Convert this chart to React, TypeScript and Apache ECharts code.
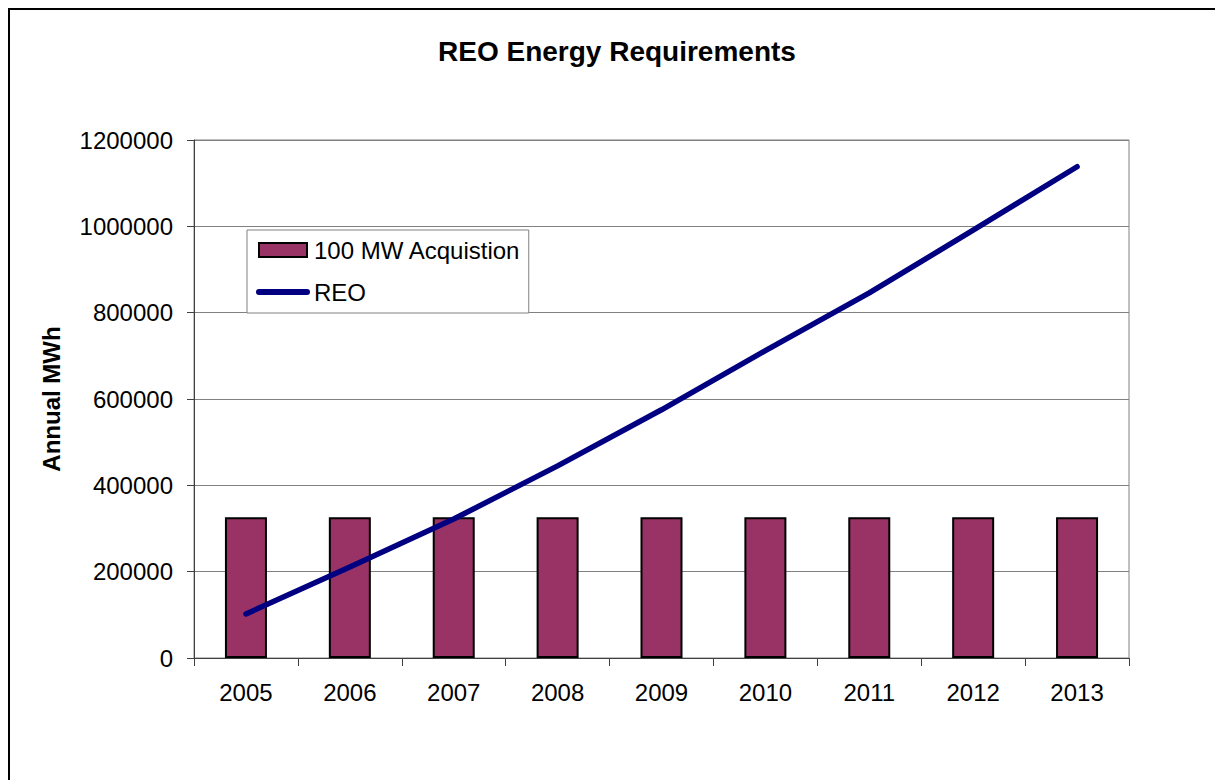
import React, { useEffect, useRef } from "react";
import * as echarts from "echarts";

const years = ["2005", "2006", "2007", "2008", "2009", "2010", "2011", "2012", "2013"];
const acquisition = [326000, 326000, 326000, 326000, 326000, 326000, 326000, 326000, 326000];
const reo = [102000, 211000, 322000, 445000, 575000, 712000, 846000, 991000, 1138000];

const FONT = "'Liberation Sans', Arial, sans-serif";

export default function App() {
  const ref = useRef<HTMLDivElement>(null);
  useEffect(() => {
    if (!ref.current) return;
    const chart = echarts.init(ref.current, null, { renderer: "svg" });
    chart.setOption({
      animation: false,
      backgroundColor: "#fff",
      textStyle: { fontFamily: FONT },
      title: {
        text: "REO Energy Requirements",
        left: 438,
        top: 32,
        padding: [5, 0, 5, 0],
        textStyle: { fontFamily: FONT, fontSize: 28, fontWeight: "bold", color: "#000" },
      },
      graphic: [
        {
          type: "rect",
          shape: { x: 9, y: 9, width: 1300, height: 900 },
          style: { fill: "none", stroke: "#000", lineWidth: 2 },
          silent: true,
        },
      ],
      legend: {
        orient: "vertical",
        left: 247,
        top: 230,
        padding: [8, 8, 9, 9],
        itemGap: 18,
        itemWidth: 48,
        itemHeight: 14,
        borderColor: "#808080",
        borderWidth: 1,
        backgroundColor: "#fff",
        textStyle: { fontFamily: FONT, fontSize: 24, color: "#000", padding: [0, 0, 0, 2] },
        data: [
          { name: "100 MW Acquistion", icon: "rect" },
          {
            name: "REO",
            itemStyle: { opacity: 0 },
            lineStyle: { width: 6, cap: "round", color: "#000080" },
          },
        ],
      },
      grid: {
        left: 194,
        right: 86,
        top: 140,
        bottom: 122,
        show: true,
        borderColor: "#808080",
        borderWidth: 1,
        backgroundColor: "transparent",
      },
      xAxis: {
        type: "category",
        data: years,
        boundaryGap: true,
        axisLine: { show: true, lineStyle: { color: "#404040", width: 1 } },
        axisTick: { show: true, length: 8, lineStyle: { color: "#404040" } },
        axisLabel: { fontFamily: FONT, fontSize: 24, color: "#000", margin: 22 },
        splitLine: { show: false },
      },
      yAxis: {
        type: "value",
        min: 0,
        max: 1200000,
        interval: 200000,
        name: "Annual MWh",
        nameLocation: "middle",
        nameGap: 131,
        nameTextStyle: { fontFamily: FONT, fontSize: 24, fontWeight: "bold", color: "#000" },
        axisLine: { show: true, lineStyle: { color: "#404040", width: 1 } },
        axisTick: { show: true, length: 7, lineStyle: { color: "#404040" } },
        axisLabel: {
          fontFamily: FONT,
          fontSize: 24,
          color: "#000",
          margin: 21,
          formatter: (v: number) => String(v),
        },
        splitLine: { show: true, lineStyle: { color: "#808080", width: 1 } },
      },
      series: [
        {
          name: "100 MW Acquistion",
          type: "bar",
          data: acquisition,
          barWidth: 42,
          itemStyle: { color: "#993366", borderColor: "#000", borderWidth: 2 },
          z: 2,
        },
        {
          name: "REO",
          type: "line",
          data: reo,
          symbol: "none",
          showSymbol: false,
          lineStyle: { color: "#000080", width: 5.5, cap: "round", join: "round" },
          itemStyle: { color: "#000080" },
          z: 3,
        },
      ],
    });
    return () => chart.dispose();
  }, []);
  return (
    <div
      ref={ref}
      style={{ position: "fixed", left: 0, top: 0, width: 1215, height: 780 }}
    />
  );
}
